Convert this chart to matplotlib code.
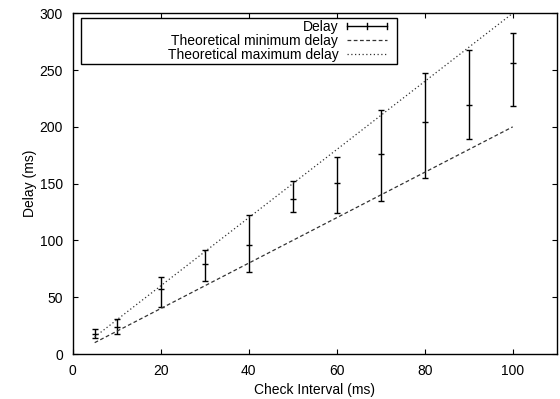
import matplotlib
matplotlib.use("Agg")
import matplotlib.pyplot as plt
from matplotlib.legend_handler import HandlerBase
from matplotlib.lines import Line2D
import numpy as np

interval = [5, 10, 20, 30, 40, 50, 60, 70, 80, 90, 100]
delay = [17.4, 23.9, 57, 79.6, 96.4, 136.8, 150.6, 176.5, 204.5, 219, 256.5]
delay_low = [13.9, 18, 41.4, 64.7, 72.4, 124.7, 124.4, 134.4, 155, 189, 218]
delay_high = [22, 30.9, 68, 91.4, 122, 152.4, 173.9, 214.5, 247.6, 268, 282.4]
theory_x = [5, 100]
theory_min = [10, 200]
theory_max = [15, 300]

plt.rcParams['font.family'] = ['Liberation Sans', 'DejaVu Sans']
plt.rcParams['font.size'] = 10

DPI = 100
PX = 72 / DPI  # points per pixel

fig = plt.figure(figsize=(5.6, 3.99), dpi=DPI)
ax = fig.add_axes([72.7/560, 1-354/399, (556.7-72.7)/560, (354-13.3)/399])

d = np.array(delay)
yerr = [d - np.array(delay_low), np.array(delay_high) - d]
ax.errorbar(interval, delay, yerr=yerr, fmt='none', ecolor='black', elinewidth=1.0,
            capsize=2, capthick=1.0)
ax.plot(interval, delay, linestyle='none', marker='_', markersize=4, color='black', mew=1.0)

MIN_LS = (0, (3, 2))
MAX_LS = (0, (1, 2))
ax.plot(theory_x, theory_min, linestyle=MIN_LS, color='#333333', lw=0.9)
ax.plot(theory_x, theory_max, linestyle=MAX_LS, color='#333333', lw=0.9)

ax.set_xlim(0, 110)
ax.set_ylim(0, 300)
ax.set_xticks([0, 20, 40, 60, 80, 100])
ax.set_yticks([0, 50, 100, 150, 200, 250, 300])
ax.tick_params(direction='in', top=True, right=True, length=3.5, width=0.8, pad=7)
for s in ax.spines.values():
    s.set_linewidth(1.0)
ax.set_xlabel('Check Interval (ms)', labelpad=4)
ax.set_ylabel('Delay (ms)', labelpad=2)

SAMPLE_PX = 40.6


class SampleHandler(HandlerBase):
    def __init__(self, kind, ls=None):
        super().__init__()
        self.kind = kind
        self.ls = ls

    def create_artists(self, legend, orig_handle, xdescent, ydescent, width, height,
                       fontsize, trans):
        y = height / 2 - ydescent
        x0 = -xdescent
        x1 = x0 + SAMPLE_PX * PX
        if self.kind == 'err':
            h = 2.2
            arts = [Line2D([x0, x1], [y, y], color='black', lw=1.0)]
            for xx in (x0, (x0 + x1) / 2, x1):
                arts.append(Line2D([xx, xx], [y - h, y + h], color='black', lw=1.0))
        else:
            arts = [Line2D([x0, x1], [y, y], color='#333333', lw=0.9, linestyle=self.ls)]
        for a in arts:
            a.set_transform(trans)
        return arts


class P1: pass
class P2: pass
class P3: pass


pad_px = 1.95
fs = 10
borderpad = pad_px * PX / fs
handlelength = (SAMPLE_PX + 7.5) * PX / fs
handletextpad = 8.4 * PX / fs

leg = ax.legend([P1(), P2(), P3()],
                ['Delay', 'Theoretical minimum delay', 'Theoretical maximum delay'],
                handler_map={P1: SampleHandler('err'), P2: SampleHandler('line', MIN_LS),
                             P3: SampleHandler('line', MAX_LS)},
                loc='upper left', bbox_to_anchor=((80.7-72.7)/484, 1-(18.3-13.3)/340.7),
                markerfirst=False, frameon=True, fancybox=False, edgecolor='black',
                framealpha=1, borderpad=borderpad, labelspacing=0.0,
                handlelength=handlelength, handletextpad=handletextpad, borderaxespad=0)
leg.get_frame().set_linewidth(1.0)
for col in leg._legend_handle_box.get_children():
    col.align = 'right'
    col.width = 316 - 2 * pad_px

fig.savefig('out.png', dpi=DPI)
